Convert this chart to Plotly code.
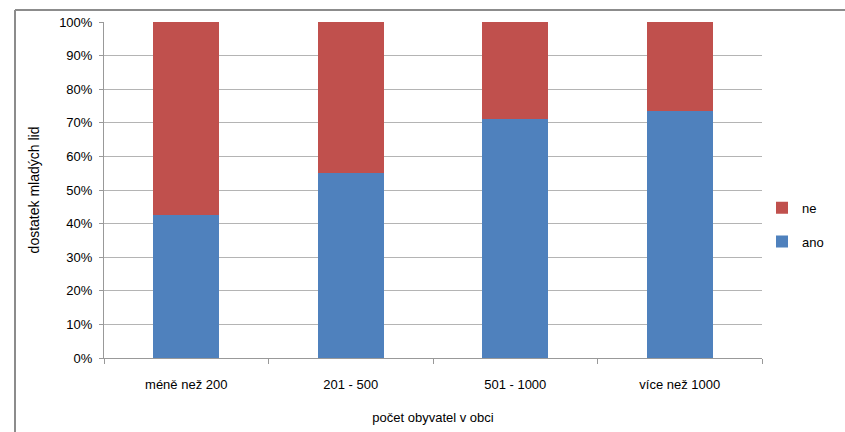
import plotly.graph_objects as go

categories = ["méně než 200", "201 - 500", "501 - 1000", "více než 1000"]
ano = [42.5, 55.0, 71.0, 73.5]
ne = [57.5, 45.0, 29.0, 26.5]
y_ticks = [0, 10, 20, 30, 40, 50, 60, 70, 80, 90, 100]
y_tick_labels = [f"{v}%" for v in y_ticks]

W, H = 845, 432
L, R, T, B = 104, 83, 22, 74
pw, ph = W - L - R, H - T - B

font = "Liberation Sans, Arial, sans-serif"

fig = go.Figure()
fig.add_trace(go.Bar(x=categories, y=ano, name="ano", marker_color="#4F81BD",
                     marker_line_width=0, legendgroup="a", legendrank=2))
fig.add_trace(go.Bar(x=categories, y=ne, name="ne", marker_color="#C0504D",
                     marker_line_width=0, legendgroup="b", legendrank=1))

bx0 = (15 - L) / pw
bx1 = (W - L) / pw
by1 = (H - B - 10) / ph
by0 = -B / ph

fig.update_layout(
    width=W, height=H,
    margin=dict(l=L, r=R, t=T, b=B, autoexpand=False),
    barmode="stack", bargap=0.6,
    plot_bgcolor="white", paper_bgcolor="white",
    font=dict(family=font, size=13, color="#000000"),
    legend=dict(x=(762 - L) / pw, y=(H - B - 224.7) / ph, xanchor="left", yanchor="middle",
                traceorder="grouped", tracegroupgap=14,
                font=dict(size=13), bgcolor="rgba(0,0,0,0)"),
    xaxis=dict(
        showgrid=False, showline=True, linecolor="#999999", linewidth=1,
        ticks="outside", tickson="boundaries", ticklen=5, tickcolor="#999999",
        ticklabelstandoff=14, tickfont=dict(size=13),
        title=dict(text="počet obyvatel v obci", font=dict(size=13), standoff=22),
    ),
    yaxis=dict(
        range=[0, 100], tickvals=y_ticks, ticktext=y_tick_labels,
        showgrid=True, gridcolor="#B4B4B4", gridwidth=1,
        showline=True, linecolor="#999999", linewidth=1,
        ticks="outside", ticklen=4, tickcolor="#999999",
        ticklabelstandoff=4, zeroline=False, tickfont=dict(size=13),
        title=dict(text="dostatek mladých lid", font=dict(size=14), standoff=16),
    ),
    shapes=[
        dict(type="line", xref="paper", yref="paper", x0=bx0, x1=bx1, y0=by1, y1=by1,
             line=dict(color="#8C8C8C", width=2)),
        dict(type="line", xref="paper", yref="paper", x0=bx0, x1=bx0, y0=by0, y1=by1,
             line=dict(color="#8C8C8C", width=2)),
    ],
)

fig.write_html("out.html", config={"displayModeBar": False},
               post_script="document.body.style.margin='0';")
